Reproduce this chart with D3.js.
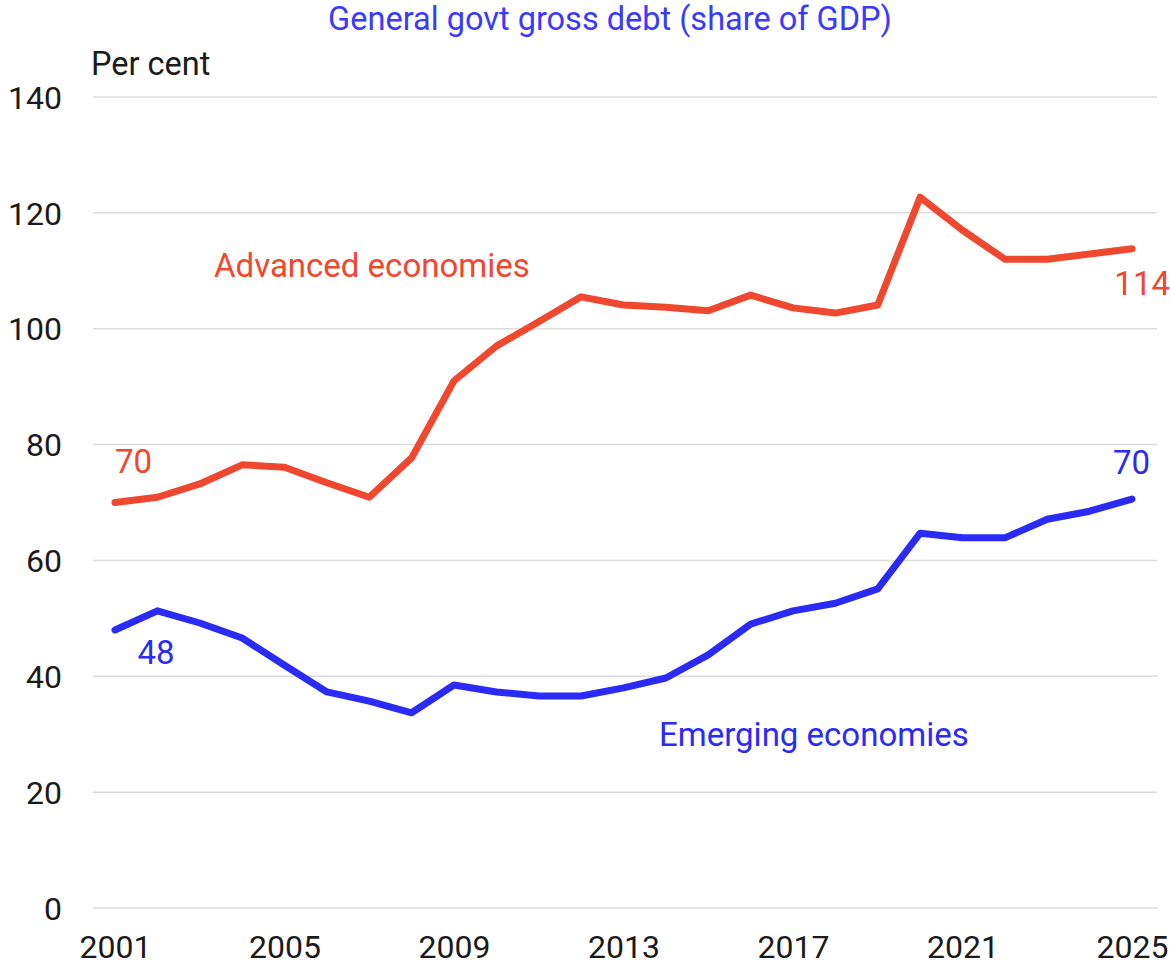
<!DOCTYPE html>
<html>
<head>
<meta charset="utf-8">
<script src="https://cdn.jsdelivr.net/npm/d3@7"></script>
<style>
  body { margin: 0; background: #fff; }
  text { font-family: Roboto, "Liberation Sans", sans-serif; }
</style>
</head>
<body>
<div id="chart"></div>
<script>
// data
var years = d3.range(2001, 2026);
var advanced = [70, 70.9, 73.2, 76.5, 76.1, 73.4, 70.9, 77.7, 91.0, 97.0, 101.2, 105.5, 104.1, 103.7, 103.1,
                105.8, 103.6, 102.7, 104.1, 122.7, 117.0, 112.0, 112.0, 112.9, 113.8];
var emerging = [48.0, 51.3, 49.2, 46.6, 41.9, 37.3, 35.7, 33.7, 38.5, 37.3, 36.6, 36.6, 38.0, 39.7, 43.7,
                49.0, 51.3, 52.6, 55.1, 64.7, 63.9, 63.9, 67.1, 68.5, 70.6];
var yTicks = [0, 20, 40, 60, 80, 100, 120, 140];
var xTicks = [2001, 2005, 2009, 2013, 2017, 2021, 2025];

var red = "#f0472f", blue = "#2b2bf7";

var W = 1170, H = 973;
var svg = d3.select("#chart").append("svg")
    .attr("width", W)
    .attr("height", H);

var x = d3.scaleLinear().domain([2001, 2025]).range([115, 1132]);
var y = d3.scaleLinear().domain([0, 140]).range([908, 97]);

// gridlines
svg.append("g")
    .selectAll("line")
    .data(yTicks)
    .enter()
    .append("line")
    .attr("x1", 93)
    .attr("x2", 1157)
    .attr("y1", function(d) { return y(d); })
    .attr("y2", function(d) { return y(d); })
    .attr("stroke", "#dcdcdc")
    .attr("stroke-width", 1.5);

// y axis labels
var yAxis = svg.append("g")
    .attr("transform", "translate(62,0)")
    .call(d3.axisLeft(y).tickValues(yTicks).tickSize(0).tickPadding(0));
yAxis.select(".domain").remove();
yAxis.selectAll("text")
    .attr("dy", "0.35em")
    .style("font-size", "32px")
    .style("fill", "#1a1a1a");

// x axis labels
var xAxis = svg.append("g")
    .attr("transform", "translate(0,935)")
    .call(d3.axisBottom(x).tickValues(xTicks).tickFormat(d3.format("d")).tickSize(0).tickPadding(0));
xAxis.select(".domain").remove();
xAxis.selectAll("text")
    .attr("dy", "0.71em")
    .style("font-size", "32px")
    .style("fill", "#1a1a1a");

// lines
var line = d3.line()
    .x(function(d, i) { return x(years[i]); })
    .y(function(d) { return y(d); });

svg.append("path")
    .datum(advanced)
    .attr("d", line)
    .attr("fill", "none")
    .attr("stroke", red)
    .attr("stroke-width", 7)
    .attr("stroke-linejoin", "round")
    .attr("stroke-linecap", "round");

svg.append("path")
    .datum(emerging)
    .attr("d", line)
    .attr("fill", "none")
    .attr("stroke", blue)
    .attr("stroke-width", 7)
    .attr("stroke-linejoin", "round")
    .attr("stroke-linecap", "round");

// title and unit
svg.append("text")
    .attr("x", 610)
    .attr("y", 30)
    .attr("text-anchor", "middle")
    .style("font-size", "32.5px")
    .style("fill", "#3a3aff")
    .text("General govt gross debt (share of GDP)");

svg.append("text")
    .attr("x", 91)
    .attr("y", 75)
    .style("font-size", "32.5px")
    .style("fill", "#1a1a1a")
    .text("Per cent");

// annotations
function note(txt, xx, yy, col, anchor) {
    svg.append("text")
        .attr("x", xx)
        .attr("y", yy)
        .attr("text-anchor", anchor || "start")
        .style("font-size", "33px")
        .style("fill", col)
        .text(txt);
}
note("Advanced economies", 214, 277, red);
note("Emerging economies", 659, 746, blue);
note("70", x(2001), y(advanced[0]) - 30, red);
note("48", x(2002) - 20, y(emerging[0]) + 34, blue);
note("114", 1170, y(advanced[24]) + 46, red, "end");
note("70", 1150, y(emerging[24]) - 25, blue, "end");
</script>
</body>
</html>
